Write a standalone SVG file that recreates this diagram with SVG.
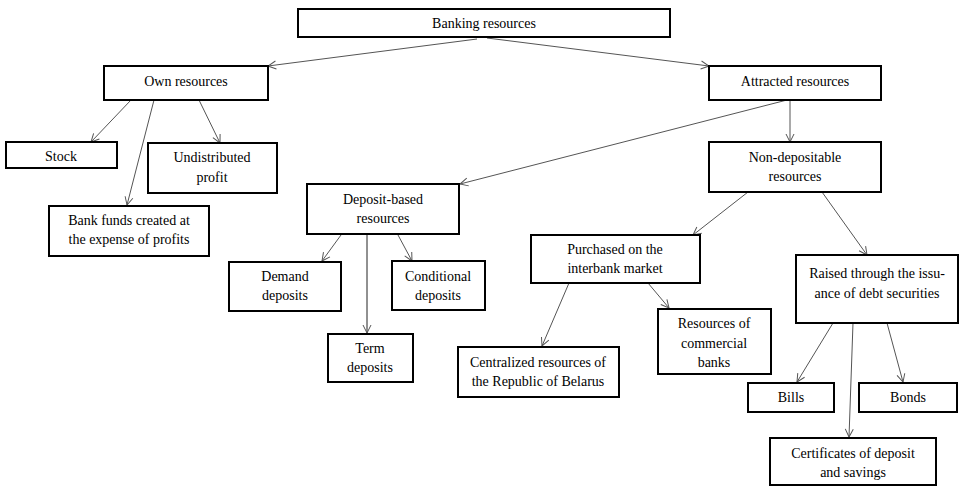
<svg xmlns="http://www.w3.org/2000/svg" width="961" height="487" viewBox="0 0 961 487">
<defs>
<marker id="arr" markerWidth="10" markerHeight="10" refX="9" refY="5" orient="auto" markerUnits="userSpaceOnUse">
<path d="M1,1 L9,5 L1,9" fill="none" stroke="#555" stroke-width="1"/>
</marker>
<style>
.box{fill:#fff;stroke:#000;stroke-width:2}
.t{font-family:'Liberation Serif','Times New Roman',Times,'DejaVu Serif',serif;font-size:14px;fill:#000;text-anchor:middle}
.c{stroke:#555;stroke-width:1;fill:none;marker-end:url(#arr)}
</style>
</defs>
<rect width="961" height="487" fill="#fff"/>
<g id="connectors">
<line class="c" x1="477" y1="39" x2="268" y2="66"/>
<line class="c" x1="487" y1="38" x2="709" y2="66"/>
<line class="c" x1="131" y1="100" x2="91" y2="142"/>
<line class="c" x1="154" y1="100" x2="127" y2="205"/>
<line class="c" x1="199" y1="100" x2="220" y2="143"/>
<line class="c" x1="787" y1="100" x2="460" y2="184"/>
<line class="c" x1="790" y1="100" x2="790" y2="142"/>
<line class="c" x1="748" y1="192" x2="693" y2="235"/>
<line class="c" x1="822" y1="192" x2="867" y2="255"/>
<line class="c" x1="341" y1="235" x2="322" y2="261"/>
<line class="c" x1="367" y1="234" x2="367" y2="333" style="stroke:#222"/>
<line class="c" x1="398" y1="235" x2="412" y2="261"/>
<line class="c" x1="569" y1="283" x2="542" y2="346"/>
<line class="c" x1="648" y1="283" x2="669" y2="308"/>
<line class="c" x1="833" y1="323" x2="797" y2="382"/>
<line class="c" x1="853" y1="323" x2="849" y2="437"/>
<line class="c" x1="887" y1="323" x2="903" y2="382"/>
</g>
<g id="banking"><rect class="box" x="298" y="9" width="372" height="28"/><text class="t" x="484" y="28">Banking resources</text></g>
<g id="own"><rect class="box" x="104" y="66" width="164" height="34"/><text class="t" x="186" y="86">Own resources</text></g>
<g id="attracted"><rect class="box" x="709" y="66" width="172" height="34"/><text class="t" x="795" y="86">Attracted resources</text></g>
<g id="stock"><rect class="box" x="6" y="142" width="111" height="26"/><text class="t" x="61" y="161">Stock</text></g>
<g id="undistributed"><rect class="box" x="148" y="143" width="129" height="50"/><text class="t" x="212" y="162">Undistributed</text><text class="t" x="212" y="182">profit</text></g>
<g id="bankfunds"><rect class="box" x="49" y="206" width="160" height="50"/><text class="t" x="129" y="225">Bank funds created at</text><text class="t" x="129" y="244">the expense of profits</text></g>
<g id="nondep"><rect class="box" x="709" y="142" width="172" height="50"/><text class="t" x="795" y="162">Non-depositable</text><text class="t" x="795" y="181">resources</text></g>
<g id="depositbased"><rect class="box" x="307" y="184" width="152" height="50"/><text class="t" x="383" y="204">Deposit-based</text><text class="t" x="383" y="223">resources</text></g>
<g id="demand"><rect class="box" x="229" y="262" width="112" height="49"/><text class="t" x="285" y="281">Demand</text><text class="t" x="285" y="300">deposits</text></g>
<g id="conditional"><rect class="box" x="392" y="261" width="93" height="49"/><text class="t" x="438" y="281">Conditional</text><text class="t" x="438" y="300">deposits</text></g>
<g id="term"><rect class="box" x="328" y="334" width="85" height="48"/><text class="t" x="370" y="353">Term</text><text class="t" x="370" y="372">deposits</text></g>
<g id="purchased"><rect class="box" x="531" y="235" width="169" height="48"/><text class="t" x="615" y="254">Purchased on the</text><text class="t" x="615" y="273">interbank market</text></g>
<g id="centralized"><rect class="box" x="458" y="347" width="161" height="50"/><text class="t" x="538" y="367">Centralized resources of</text><text class="t" x="538" y="386">the Republic of Belarus</text></g>
<g id="commercial"><rect class="box" x="658" y="309" width="113" height="65"/><text class="t" x="714" y="328">Resources of</text><text class="t" x="714" y="348">commercial</text><text class="t" x="714" y="367">banks</text></g>
<g id="raised"><rect class="box" x="796" y="255" width="162" height="68"/><text class="t" x="877" y="278">Raised through the issu-</text><text class="t" x="877" y="298">ance of debt securities</text></g>
<g id="bills"><rect class="box" x="748" y="383" width="86" height="29"/><text class="t" x="791" y="402">Bills</text></g>
<g id="bonds"><rect class="box" x="859" y="383" width="98" height="29"/><text class="t" x="908" y="402">Bonds</text></g>
<g id="certificates"><rect class="box" x="770" y="438" width="166" height="47"/><text class="t" x="853" y="458">Certificates of deposit</text><text class="t" x="853" y="477">and savings</text></g>
</svg>
